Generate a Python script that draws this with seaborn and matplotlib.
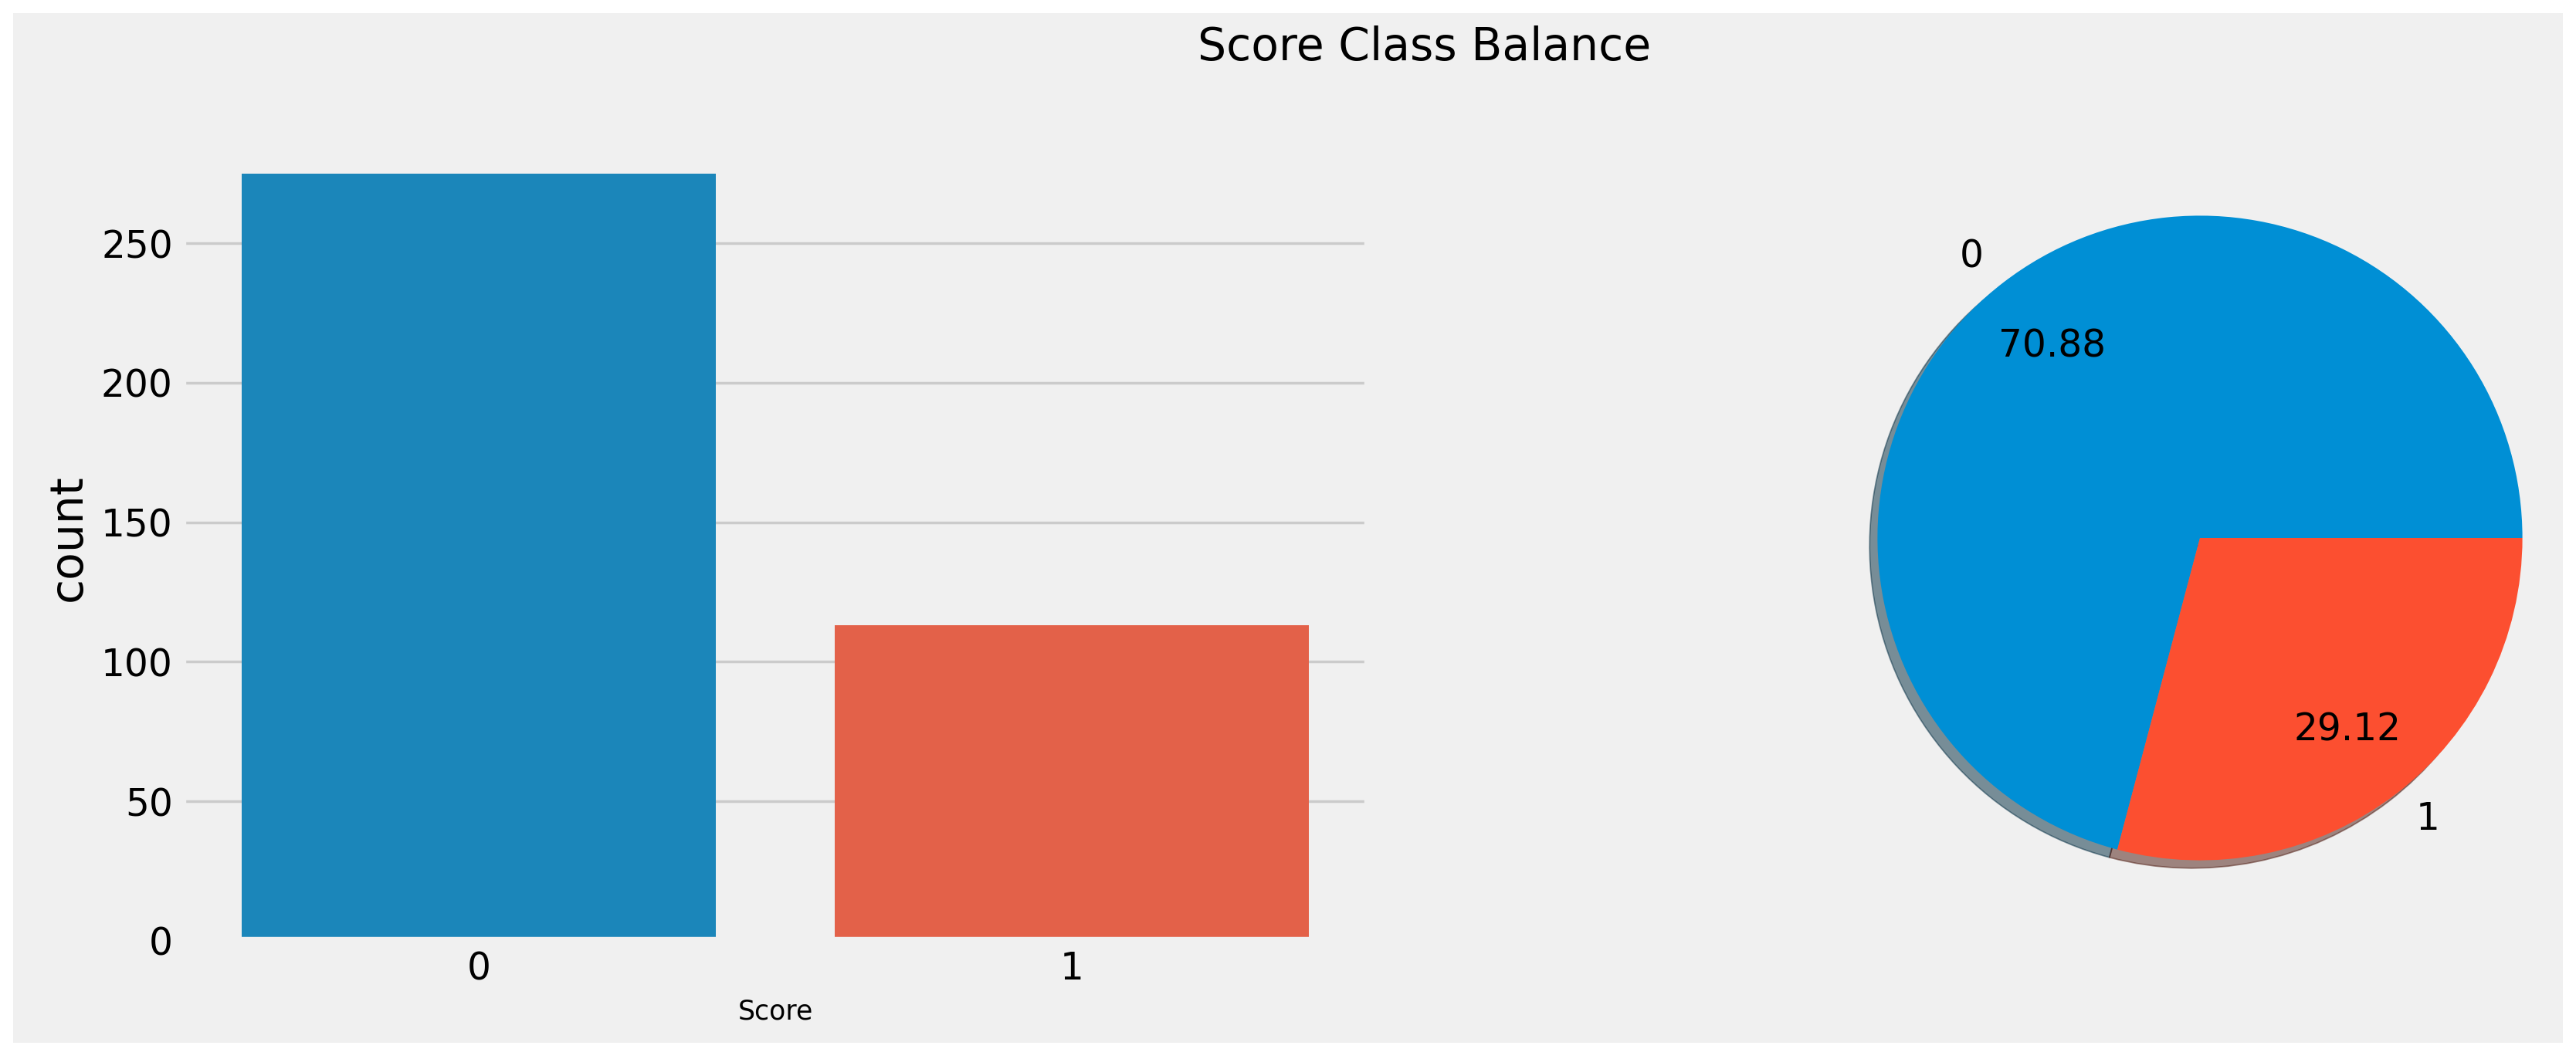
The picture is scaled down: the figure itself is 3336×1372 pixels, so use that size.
import matplotlib
matplotlib.use('Agg')
import matplotlib.pyplot as plt
import seaborn as sns
import pandas as pd
from matplotlib.patches import Rectangle

# ---- data ----
categories = ['0', '1']
counts = [275, 113]
pie_labels = ['0', '1']
colors = ['#008fd5', '#fc4f30']

plt.style.use('fivethirtyeight')

W, H, DPI = 3336, 1372, 250
fig = plt.figure(figsize=(W / DPI, H / DPI), dpi=DPI)
fig.patch.set_facecolor('white')
fig.add_artist(Rectangle((17 / W, (H - 1351) / H), (3319 - 17) / W, (1351 - 17) / H,
                         transform=fig.transFigure, facecolor='#f0f0f0',
                         edgecolor='none', zorder=-10))

ax_bottom = (H - 1219) / H
ax_height = 1044 / H
ax1 = fig.add_axes([236 / W, ax_bottom, 1536 / W, ax_height])
ax2 = fig.add_axes([(2849 - 522) / W, ax_bottom, 1044 / W, ax_height])

df = pd.DataFrame({'Score': categories, 'count': counts})
sns.barplot(data=df, x='Score', y='count', hue='Score', palette=colors,
            legend=False, ax=ax1)
ax1.set_xlabel('Score', fontsize=10)
ax1.set_ylabel('count')
ax1.xaxis.grid(False)

ax2.pie(counts, labels=pie_labels, autopct='%.2f', pctdistance=0.75,
        shadow={'ox': -0.007, 'oy': -0.007, 'shade': 0.7}, colors=colors)
ax2.set_aspect('equal')

fig.suptitle('Score Class Balance', x=0.553, y=0.976, va='top')

fig.savefig('out.png', dpi=DPI, facecolor='white')
